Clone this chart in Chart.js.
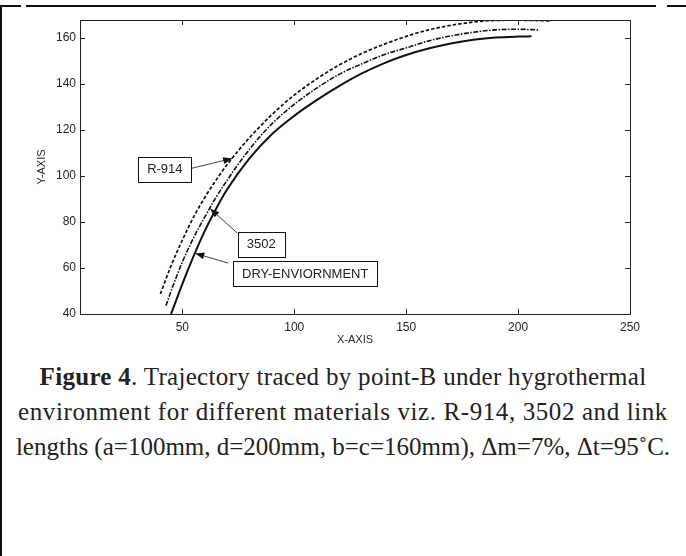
<!DOCTYPE html>
<html><head><meta charset="utf-8">
<script src="https://cdn.jsdelivr.net/npm/chart.js@4.4.0/dist/chart.umd.min.js"></script>
<style>
html,body{margin:0;padding:0;background:#fff;}
body{width:686px;height:556px;position:relative;overflow:hidden;}
#wrap{position:absolute;left:0;top:0;width:686px;height:350px;}
.ln{position:absolute;background:#111;}
.caption{position:absolute;left:0;top:359px;width:686px;text-align:center;font-family:"Liberation Serif","Times New Roman",serif;font-size:25px;line-height:35px;color:#222;white-space:nowrap;}
.caption b{font-weight:bold;}
.caption .w{letter-spacing:0.3px;}
.caption .w2{letter-spacing:0.6px;}
</style></head>
<body>
<div class="ln" style="left:0;top:5px;width:21px;height:1.5px"></div>
<div class="ln" style="left:26px;top:5px;width:630px;height:1.5px"></div>
<div class="ln" style="left:667px;top:4.5px;width:19px;height:2.5px"></div>
<div class="ln" style="left:0;top:5px;width:1.5px;height:551px"></div>
<div id="wrap"><canvas id="c" width="686" height="350"></canvas></div>
<div class="caption"><span class="w"><b>Figure 4</b>. Trajectory traced by point-B under hygrothermal</span><br><span class="w2">environment for different materials viz. R-914, 3502 and link</span><br>lengths (a=100mm, d=200mm, b=c=160mm), Δm=7%, Δt=95˚C.</div>
<script>
// ---- data ----
const xR914 = [40.2,45,50,55,60,65,70,80,90,100,110,120,130,140,150,160,170,180,190,200,215];
const yR914 = [48.7,61,72,82,90.5,98,104.8,116.5,126.5,135,142,148,153,157,160.5,163.3,165.3,166.7,167.4,167.5,167.2];
const x3502 = [42.7,45,50,55,60,65,70,80,90,100,110,120,130,140,150,160,170,180,190,200,209];
const y3502 = [43.6,50,62.5,73,82,90.5,98,111.5,122.5,131,138,144,148.5,152.5,155.5,158.5,160.7,162.3,163.3,163.6,163.3];
const xDry = [45,50,55,60,65,70,80,90,100,110,120,130,140,150,160,170,180,190,200,206];
const yDry = [40,53,65,76,85.5,94,107.5,118,126,132.8,138.9,144.3,148.8,152.4,155.2,157.4,159,160,160.4,160.5];
const xTicks = [50,100,150,200,250];
const yTicks = [40,60,80,100,120,140,160];
const seriesNames = ['R-914','3502','DRY-ENVIORNMENT'];

// annotation callouts (data coordinates)
const callouts = [
  {text:'R-914', cx:42.2, cy:102.8, sx:54.0, sy:103.2, tx:72.3, ty:107.5},
  {text:'3502', cx:85.3, cy:70.3, sx:74.6, sy:75.1, tx:62.5, ty:85.7},
  {text:'DRY-ENVIORNMENT', cx:104.9, cy:57.5, sx:70.5, sy:62.1, tx:55.8, ty:66.3}
];

const toPts = (xs, ys) => xs.map((v,i)=>({x:v, y:ys[i]}));

const framePlugin = {
  id:'frame',
  afterDatasetsDraw(chart){
    const {ctx, chartArea:a, scales:{x,y}} = chart;
    ctx.save();
    ctx.strokeStyle='#222'; ctx.lineWidth=1;
    ctx.strokeRect(Math.round(a.left)+0.5, Math.round(a.top)+0.5, Math.round(a.right-a.left), Math.round(a.bottom-a.top));
    const L=5;
    ctx.beginPath();
    x.ticks.forEach(t=>{const p=Math.round(x.getPixelForValue(t.value))+0.5;
      ctx.moveTo(p,a.bottom); ctx.lineTo(p,a.bottom-L); ctx.moveTo(p,a.top); ctx.lineTo(p,a.top+L);});
    y.ticks.forEach(t=>{const p=Math.round(y.getPixelForValue(t.value))+0.5;
      ctx.moveTo(a.left,p); ctx.lineTo(a.left+L,p); ctx.moveTo(a.right,p); ctx.lineTo(a.right-L,p);});
    ctx.stroke();
    // callouts
    ctx.font='13px "Liberation Sans", Arial, sans-serif';
    ctx.textAlign='center'; ctx.textBaseline='middle';
    callouts.forEach(c=>{
      const sx=x.getPixelForValue(c.sx), sy=y.getPixelForValue(c.sy);
      const tx=x.getPixelForValue(c.tx), ty=y.getPixelForValue(c.ty);
      ctx.strokeStyle='#111'; ctx.fillStyle='#111'; ctx.lineWidth=0.8;
      ctx.beginPath(); ctx.moveTo(sx,sy); ctx.lineTo(tx,ty); ctx.stroke();
      const ang=Math.atan2(ty-sy, tx-sx), hl=9, hw=3.5;
      ctx.beginPath(); ctx.moveTo(tx,ty);
      ctx.lineTo(tx-hl*Math.cos(ang)+hw*Math.sin(ang), ty-hl*Math.sin(ang)-hw*Math.cos(ang));
      ctx.lineTo(tx-hl*Math.cos(ang)-hw*Math.sin(ang), ty-hl*Math.sin(ang)+hw*Math.cos(ang));
      ctx.closePath(); ctx.fill();
      const cx=x.getPixelForValue(c.cx), cy=y.getPixelForValue(c.cy);
      const w=ctx.measureText(c.text).width+18, h=25;
      ctx.fillStyle='#fff';
      ctx.fillRect(Math.round(cx-w/2)+0.5, Math.round(cy-h/2)+0.5, Math.round(w), h);
      ctx.strokeStyle='#111'; ctx.lineWidth=1;
      ctx.strokeRect(Math.round(cx-w/2)+0.5, Math.round(cy-h/2)+0.5, Math.round(w), h);
      ctx.fillStyle='#222';
      ctx.fillText(c.text, cx, cy+0.5);
    });
    ctx.restore();
  }
};

const tickFont = {family:'"Liberation Sans", Arial, sans-serif', size:12};
new Chart(document.getElementById('c'), {
  type:'scatter',
  data:{datasets:[
    {label:seriesNames[0], data:toPts(xR914,yR914), showLine:true, borderColor:'#111', borderWidth:1.7, borderDash:[3.5,2], pointRadius:0, cubicInterpolationMode:'monotone'},
    {label:seriesNames[1], data:toPts(x3502,y3502), showLine:true, borderColor:'#111', borderWidth:1.6, borderDash:[5,1.5,1.5,1.5], pointRadius:0, cubicInterpolationMode:'monotone'},
    {label:seriesNames[2], data:toPts(xDry,yDry), showLine:true, borderColor:'#111', borderWidth:2, pointRadius:0, cubicInterpolationMode:'monotone'}
  ]},
  options:{
    responsive:false, devicePixelRatio:1, animation:false,
    layout:{padding:{left:0, top:20, right:56, bottom:0}},
    plugins:{legend:{display:false}, tooltip:{enabled:false}},
    scales:{
      x:{type:'linear', min:4.3, max:250,
        afterBuildTicks:s=>{s.ticks=xTicks.map(v=>({value:v}));},
        afterFit:s=>{s.height=36;},
        grid:{display:false, drawTicks:false}, border:{display:false},
        ticks:{font:tickFont, color:'#262626', padding:6, maxRotation:0},
        title:{display:true, text:'X-AXIS', font:{family:'"Liberation Sans", Arial, sans-serif', size:11}, color:'#262626', padding:{top:0,bottom:3}}},
      y:{type:'linear', min:40, max:167.6,
        afterBuildTicks:s=>{s.ticks=yTicks.map(v=>({value:v}));},
        afterFit:s=>{s.width=80;},
        grid:{display:false, drawTicks:false}, border:{display:false},
        ticks:{font:tickFont, color:'#262626', padding:4},
        title:{display:true, text:'Y-AXIS', font:{family:'"Liberation Sans", Arial, sans-serif', size:11}, color:'#262626', padding:{top:35,bottom:0}}}
    }
  },
  plugins:[framePlugin]
});
</script>
</body></html>
